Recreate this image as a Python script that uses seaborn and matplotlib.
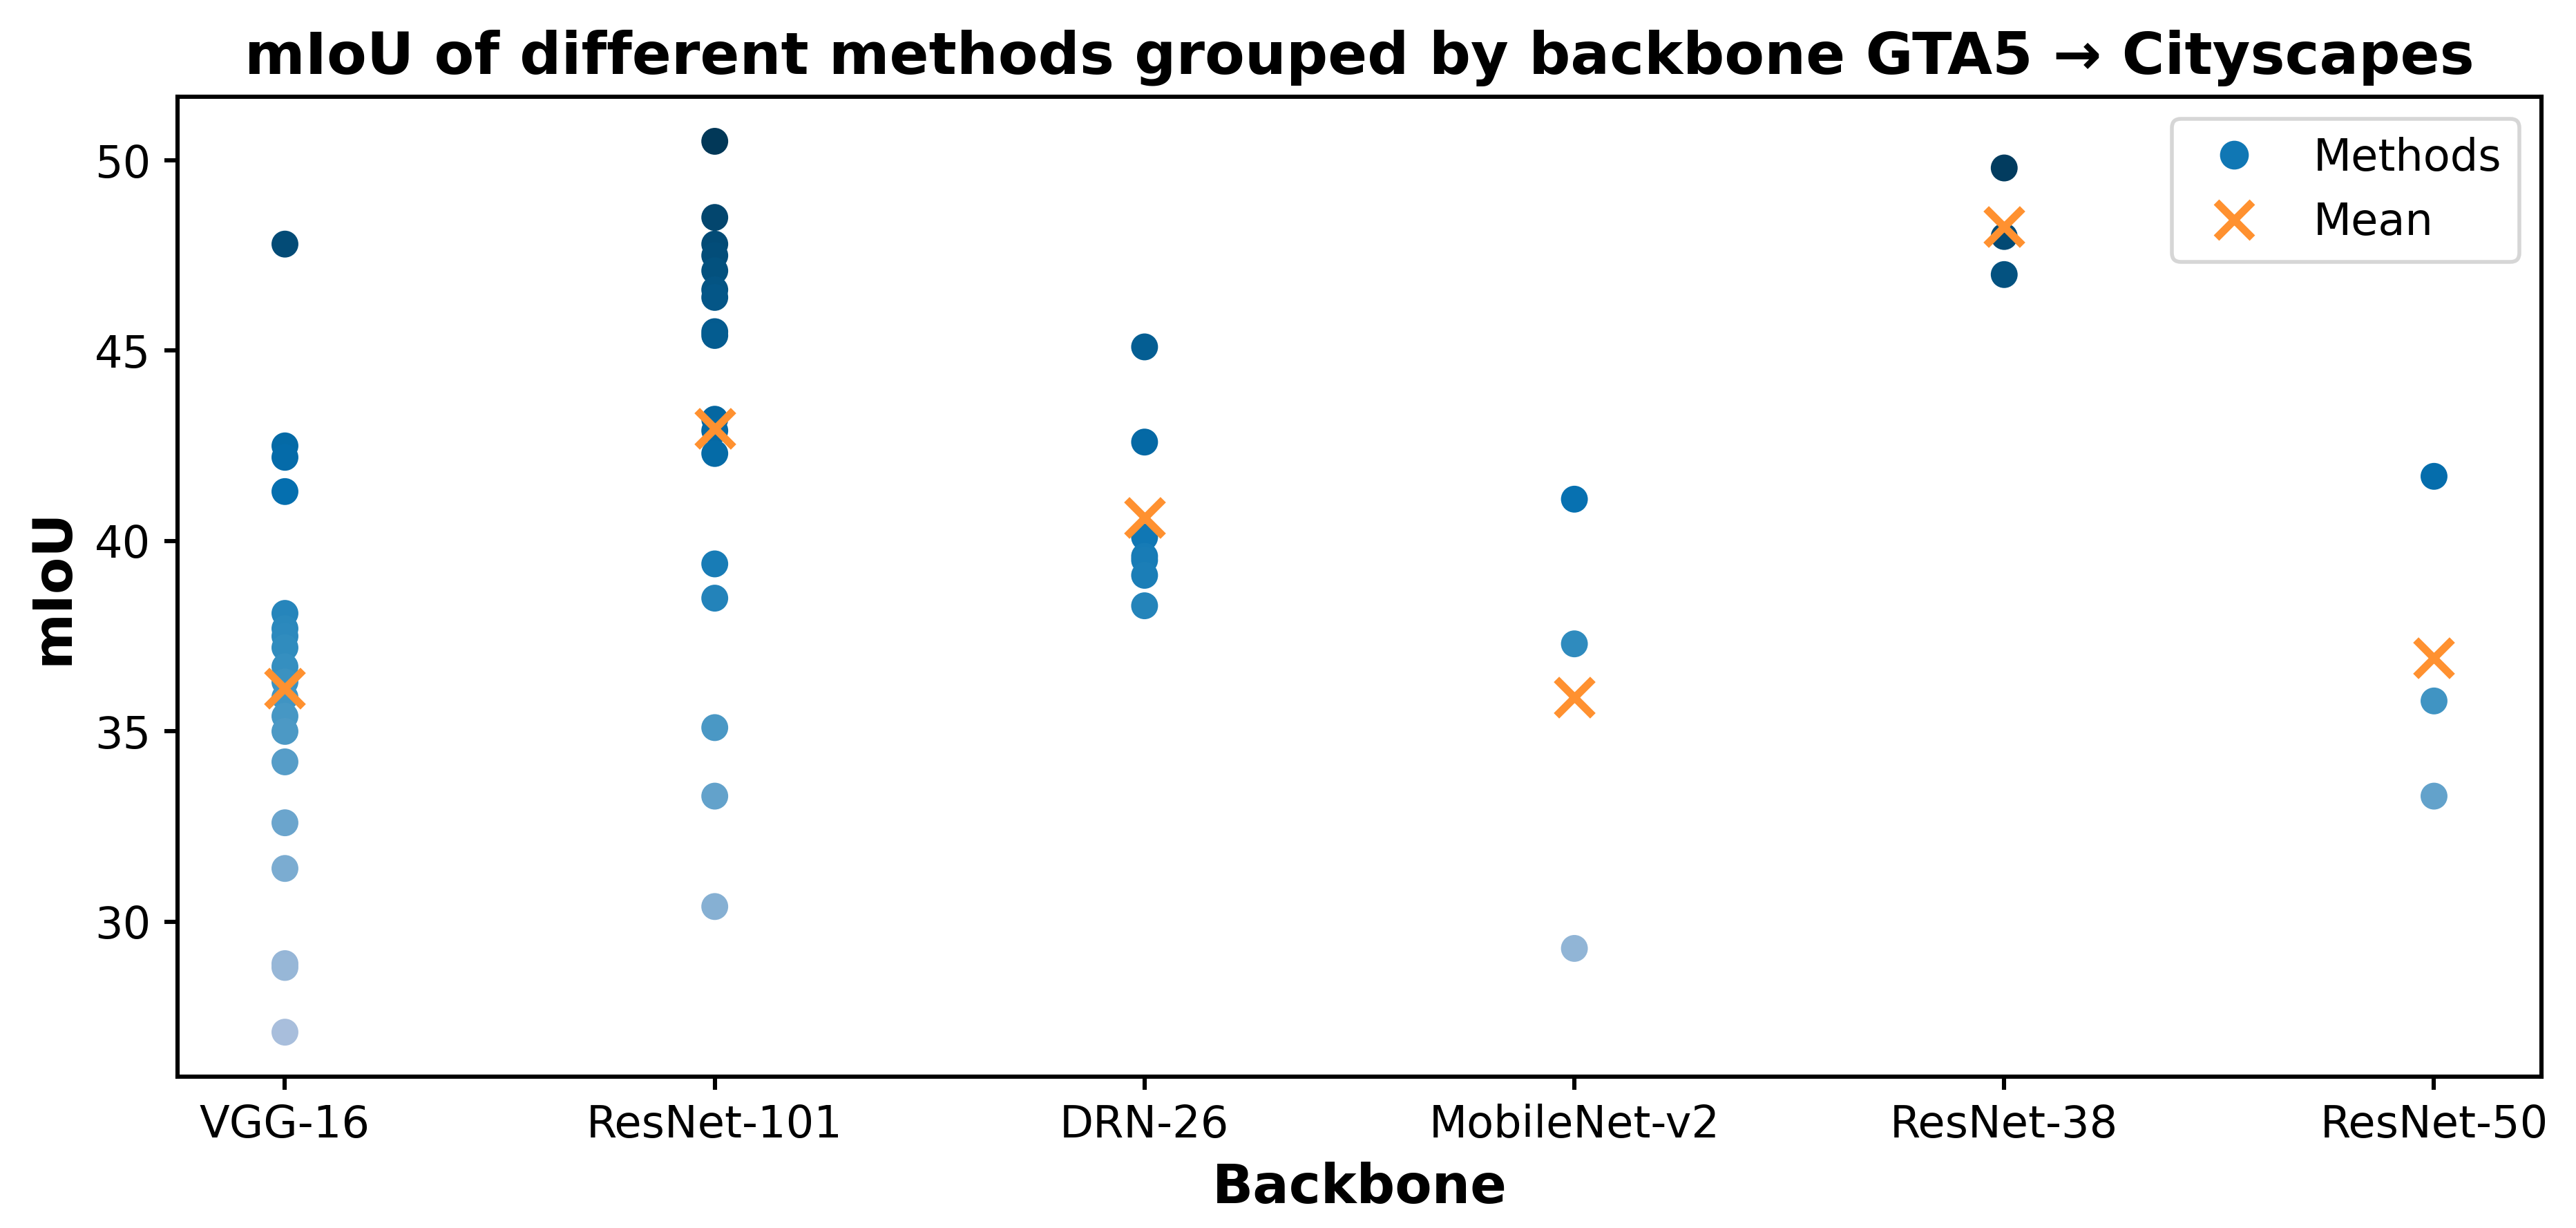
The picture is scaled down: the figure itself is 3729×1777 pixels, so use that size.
import pandas as pd
import seaborn as sns
import matplotlib.pyplot as plt
from matplotlib.lines import Line2D

# mIoU values per backbone (GTA5 -> Cityscapes)
backbones = ['VGG-16', 'ResNet-101', 'DRN-26', 'MobileNet-v2', 'ResNet-38', 'ResNet-50']
vgg16 = [47.8, 42.5, 42.2, 41.3, 38.1, 37.7, 37.5, 37.2, 36.7, 36.3, 35.9, 35.4,
         35.0, 34.2, 32.6, 31.4, 28.9, 28.8, 27.1]
resnet101 = [50.5, 48.5, 47.8, 47.5, 47.1, 46.6, 46.4, 45.5, 45.4, 43.2, 42.9,
             42.3, 39.4, 38.5, 35.1, 33.3, 30.4]
drn26 = [45.1, 42.6, 40.1, 39.6, 39.5, 39.1, 38.3]
mobilenet_v2 = [41.1, 37.3, 29.3]
resnet38 = [49.8, 48.0, 47.0]
resnet50 = [41.7, 35.8, 33.3]

groups = [vgg16, resnet101, drn26, mobilenet_v2, resnet38, resnet50]
df = pd.DataFrame({
    'Backbone': [b for b, g in zip(backbones, groups) for _ in g],
    'mIoU': [v for g in groups for v in g],
})
means = df.groupby('Backbone', sort=False)['mIoU'].mean().reset_index()

fig, ax = plt.subplots(figsize=(9.3225, 4.4425), dpi=400)

sns.scatterplot(data=df, x='Backbone', y='mIoU', hue='mIoU', palette='PuBu',
                hue_norm=(13.5, 50.5), s=36, linewidth=1, edgecolor='face',
                legend=False, ax=ax)
sns.scatterplot(data=means, x='Backbone', y='mIoU', marker='x', color='#ff9130',
                s=90, linewidth=2, legend=False, ax=ax)

ax.set_title('mIoU of different methods grouped by backbone GTA5 \u2192 Cityscapes',
             fontsize=15.15, fontweight='bold')
ax.set_xlabel('Backbone', fontsize=14, fontweight='bold')
ax.set_ylabel('mIoU', fontsize=14, fontweight='bold')
ax.tick_params(labelsize=11.5, width=1.1)
for sp in ax.spines.values():
    sp.set_linewidth(1.1)

handles = [
    Line2D([], [], linestyle='', marker='o', markersize=6.5,
           color=plt.get_cmap('PuBu')(0.72)),
    Line2D([], [], linestyle='', marker='x', markersize=9.5, markeredgewidth=2,
           color='#ff9130'),
]
ax.legend(handles, ['Methods', 'Mean'], loc='upper right', fontsize=11.5)

plt.subplots_adjust(left=0.0689, right=0.9866, top=0.9212, bottom=0.1232)
plt.savefig('out.png', dpi=400)
